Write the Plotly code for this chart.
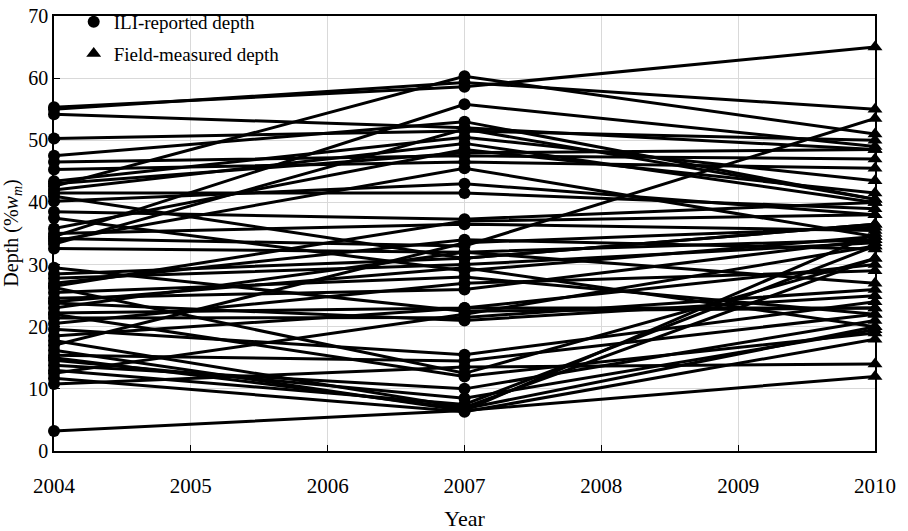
import plotly.graph_objects as go

years = [2004, 2007, 2010]

ili_2004 = [55.3, 55.0, 54.2, 50.3, 47.5, 46.5, 45.3, 43.4, 42.6, 42.0, 41.5, 41.0, 40.2,
            38.5, 37.5, 35.8, 35.0, 34.5, 34.2, 33.3, 32.6, 29.5, 27.8, 27.0, 26.3, 25.5,
            24.6, 23.8, 23.0, 22.2, 21.4, 20.5, 19.6, 17.8, 17.0, 16.2, 15.4, 14.6, 13.8,
            13.0, 11.7, 10.8, 3.2, 26.5, 24.0, 22.0, 18.5, 15.0, 12.5, 28.5, 33.8, 43.0]
ili_2007 = [58.6, 59.3, 52.0, 51.5, 53.0, 47.5, 46.5, 50.5, 60.3, 49.5, 41.5, 31.0, 43.0,
            37.3, 29.0, 48.5, 36.5, 55.8, 33.0, 51.8, 32.0, 22.5, 30.0, 34.0, 12.5, 28.0,
            26.0, 21.0, 32.0, 23.0, 21.5, 27.0, 15.5, 7.0, 33.5, 6.5, 14.5, 8.5, 10.0,
            7.5, 6.3, 13.5, 6.5, 37.0, 29.5, 12.0, 23.0, 6.8, 22.0, 31.0, 45.5, 48.0]
field_2010 = [65.0, 55.0, 48.5, 50.0, 40.5, 47.0, 45.5, 43.5, 51.0, 40.0, 39.0, 36.5, 38.0,
              40.0, 34.5, 41.5, 35.5, 49.0, 53.5, 40.5, 34.0, 23.0, 33.5, 32.5, 31.0, 22.0,
              34.0, 25.0, 27.0, 30.0, 26.0, 29.0, 24.0, 31.0, 36.0, 35.0, 22.0, 19.5, 21.0,
              33.0, 18.0, 14.0, 12.0, 38.0, 20.0, 19.0, 23.0, 20.0, 33.0, 36.5, 34.5, 48.5]

FONT = "Liberation Serif"

# connecting lines
lx, ly = [], []
for a, b, c in zip(ili_2004, ili_2007, field_2010):
    lx += years + [None]
    ly += [a, b, c, None]

fig = go.Figure()
fig.add_trace(go.Scatter(x=lx, y=ly, mode="lines", line=dict(color="black", width=3),
                         showlegend=False, hoverinfo="skip", cliponaxis=False))
fig.add_trace(go.Scatter(x=[2004] * len(ili_2004) + [2007] * len(ili_2007),
                         y=ili_2004 + ili_2007, mode="markers",
                         marker=dict(symbol="circle", size=12, color="black"),
                         name="ILI-reported depth", legendgroup="a", cliponaxis=False))
fig.add_trace(go.Scatter(x=[2010] * len(field_2010), y=field_2010, mode="markers",
                         marker=dict(symbol="triangle-up", size=13, color="black"),
                         name="Field-measured depth", legendgroup="b", cliponaxis=False))

fig.update_layout(
    width=908, height=531,
    margin=dict(l=54, r=33, t=16, b=80, autoexpand=False),
    paper_bgcolor="white", plot_bgcolor="white",
    font=dict(family=FONT, size=21, color="black"),
    legend=dict(x=0.024, y=1.03, xanchor="left", yanchor="top",
                bgcolor="rgba(0,0,0,0)", font=dict(family=FONT, size=19, color="black"),
                itemwidth=30, tracegroupgap=4),
    showlegend=True,
    annotations=[dict(text="Depth (%<i>w</i><sub><i>m</i></sub>)", textangle=-90,
                      xref="paper", yref="paper", x=-0.051, y=0.5,
                      xanchor="center", yanchor="middle", showarrow=False,
                      font=dict(family=FONT, size=20, color="black"))],
)
fig.update_xaxes(range=[2004, 2010], dtick=1, tick0=2004, automargin=False,
                 tickfont=dict(family=FONT, size=21, color="black"),
                 ticklabelstandoff=15,
                 showline=True, linecolor="black", linewidth=1.5, mirror=True,
                 ticks="inside", ticklen=6, tickcolor="black",
                 showgrid=True, gridcolor="#d9d9d9", gridwidth=1, zeroline=False,
                 title=dict(text="Year", font=dict(family=FONT, size=22)))
fig.update_yaxes(range=[0, 70], dtick=10, automargin=False,
                 tickfont=dict(family=FONT, size=20, color="black"),
                 showline=True, linecolor="black", linewidth=1.5, mirror=True,
                 ticks="inside", ticklen=6, tickcolor="black",
                 showgrid=True, gridcolor="#d9d9d9", gridwidth=1, zeroline=False)

fig.write_html("out.html")
